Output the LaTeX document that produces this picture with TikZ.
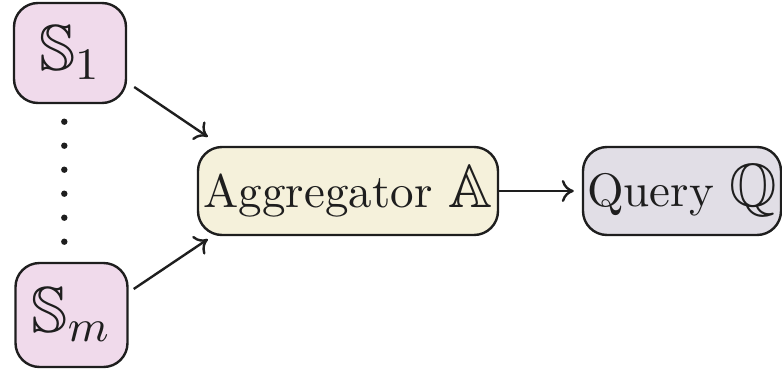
\documentclass[tikz,border=0pt]{standalone}
\usepackage{amssymb}
\usepackage{graphicx}
\usetikzlibrary{arrows.meta}
\definecolor{spink}{RGB}{240,218,235}
\definecolor{aggyel}{RGB}{245,241,219}
\definecolor{qgray}{RGB}{225,222,230}
\definecolor{edge}{RGB}{30,30,30}
\newcommand{\bbbig}[1]{{\fontsize{13}{15}\selectfont$\mathbb{#1}$}}
\newcommand{\bigtext}[2]{\scalebox{#1}{\fontsize{10}{12}\selectfont #2}}
\tikzset{
  box/.style={draw=edge, line width=1.2pt, rounded corners=12pt, inner sep=1pt, text=edge},
  sbox/.style={box, fill=spink, minimum width=56pt},
  arr/.style={draw=edge, line width=1.2pt, -{To[length=6pt,width=11pt]}},
  vdot/.style={fill=edge}
}
\begin{document}
\begin{tikzpicture}[x=0.5pt,y=-0.5pt]
\useasboundingbox (0,0) rectangle (782,370);
\node[sbox, minimum height=50pt] (s1) at (70,53) {\bigtext{2.5}{\fontsize{13}{15}\selectfont$\mathbb{S}_1$}};
\node[sbox, minimum height=52pt] (sm) at (71.5,315) {\bigtext{2.5}{\fontsize{13}{15}\selectfont$\mathbb{S}_m$}};
\node[box, fill=aggyel, minimum width=150pt, minimum height=44pt] (agg) at (348,191) {\bigtext{2.35}{Aggregator \bbbig{A}}};
\node[box, fill=qgray, minimum width=99pt, minimum height=44pt] (q) at (682,191) {\bigtext{2.35}{Query \bbbig{Q}}};
\foreach \yy in {121.7,145.7,169.7,193.7,217.7,241.7}
  \fill[vdot] (64.3,\yy) circle (1.6pt);
\draw[arr] ([shift={(7,34)}]s1.east) -- ([shift={(11,-9)}]agg.north west);
\draw[arr] ([shift={(5,-26)}]sm.east) -- ([shift={(11,3)}]agg.south west);
\draw[arr, shorten >=4pt] (agg.east) -- (q.west);
\end{tikzpicture}
\end{document}
